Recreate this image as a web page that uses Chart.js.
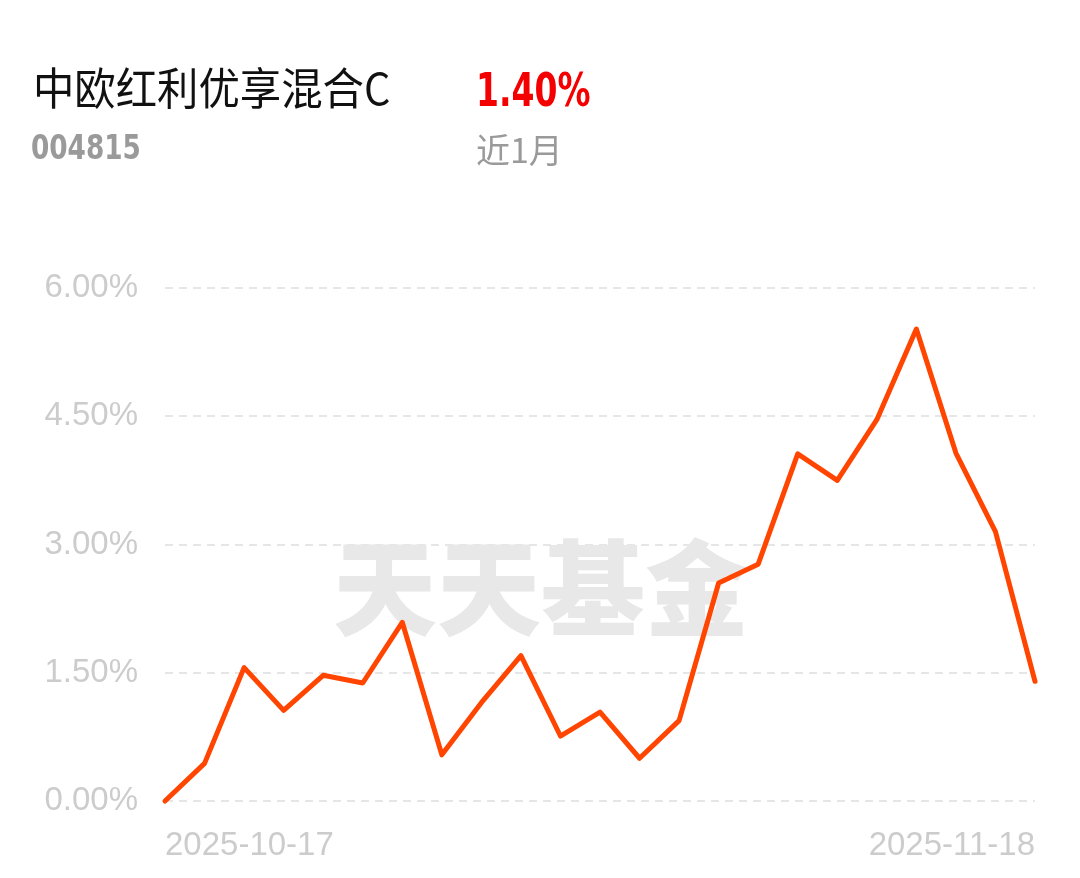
<!DOCTYPE html>
<html>
<head>
<meta charset="utf-8">
<script src="https://cdn.jsdelivr.net/npm/chart.js@4.4.1/dist/chart.umd.min.js"></script>
<style>
  html, body { margin: 0; padding: 0; background: #fff; width: 1080px; height: 878px; overflow: hidden; }
  #wrap { position: relative; width: 1080px; height: 878px; }
  canvas { position: absolute; left: 0; top: 0; }
  .t { position: absolute; white-space: nowrap; line-height: 1; transform-origin: 0 0; }
  #name { left: 33px; top: 54px; font: 400 44px "Noto Sans CJK SC", sans-serif; color: #111; transform: scaleX(0.94); }
  #ret { left: 476px; top: 62px; font: 700 47px "DejaVu Sans Condensed", "DejaVu Sans", sans-serif; color: #f50000; transform: scaleX(0.78); }
  #code { left: 31px; top: 127px; font: 700 34px "DejaVu Sans Condensed", "DejaVu Sans", sans-serif; color: #9a9a9a; transform: scaleX(0.86); }
  #period { left: 476px; top: 124px; font: 400 34px "Noto Sans CJK SC", sans-serif; color: #9a9a9a; }
</style>
</head>
<body>
<div id="wrap">
  <canvas id="c" width="1080" height="878"></canvas>
  <div class="t" id="name">中欧红利优享混合C</div>
  <div class="t" id="ret">1.40%</div>
  <div class="t" id="code">004815</div>
  <div class="t" id="period">近1月</div>
</div>
<script>
const dates = ["2025-10-17","2025-10-20","2025-10-21","2025-10-22","2025-10-23","2025-10-24",
  "2025-10-27","2025-10-28","2025-10-29","2025-10-30","2025-10-31",
  "2025-11-03","2025-11-04","2025-11-05","2025-11-06","2025-11-07",
  "2025-11-10","2025-11-11","2025-11-12","2025-11-13","2025-11-14",
  "2025-11-17","2025-11-18"];
const returns = [0.00, 0.44, 1.56, 1.06, 1.47, 1.38, 2.09, 0.54, 1.15, 1.70, 0.76,
  1.04, 0.50, 0.94, 2.55, 2.77, 4.06, 3.75, 4.46, 5.52, 4.07, 3.15, 1.40];
const yTicks = [0, 1.5, 3, 4.5, 6];
const watermarkText = "天天基金";

const watermark = {
  id: 'watermark',
  beforeDatasetsDraw(chart) {
    const ctx = chart.ctx;
    ctx.save();
    ctx.font = '900 104px "Noto Sans CJK SC", sans-serif';
    ctx.fillStyle = '#e8e8e8';
    ctx.textAlign = 'center';
    ctx.textBaseline = 'middle';
    ctx.fillText(watermarkText, 541, 588);
    ctx.restore();
  }
};

new Chart(document.getElementById('c'), {
  type: 'line',
  data: {
    labels: dates,
    datasets: [{
      data: returns,
      borderColor: '#ff4500',
      borderWidth: 5,
      pointRadius: 0,
      tension: 0,
      fill: false,
      clip: false,
      borderCapStyle: 'round',
      borderJoinStyle: 'round'
    }]
  },
  options: {
    responsive: false,
    animation: false,
    devicePixelRatio: 1,
    layout: { padding: { left: 0, right: 45, top: 288, bottom: 12 } },
    plugins: { legend: { display: false }, tooltip: { enabled: false } },
    scales: {
      x: {
        offset: false,
        grid: { display: false, drawTicks: false },
        border: { display: false },
        afterFit(scale) { scale.height = 65; },
        ticks: {
          autoSkip: false,
          maxRotation: 0,
          align: 'inner',
          padding: 25,
          color: '#cccccc',
          font: { family: '"Liberation Sans", Arial, sans-serif', size: 33 },
          callback(v, i) { return (i === 0 || i === dates.length - 1) ? dates[i] : ''; }
        }
      },
      y: {
        min: 0,
        max: 6,
        afterFit(scale) { scale.width = 165; },
        afterBuildTicks(scale) { scale.ticks = yTicks.map(v => ({ value: v })); },
        grid: { color: '#e6e6e6', lineWidth: 2, drawTicks: false },
        border: { display: false, dash: [8, 6] },
        ticks: {
          padding: 27,
          color: '#cccccc',
          font: { family: '"Liberation Sans", Arial, sans-serif', size: 33 },
          callback(v) { return v.toFixed(2) + '%'; }
        }
      }
    }
  },
  plugins: [watermark]
});
</script>
</body>
</html>
